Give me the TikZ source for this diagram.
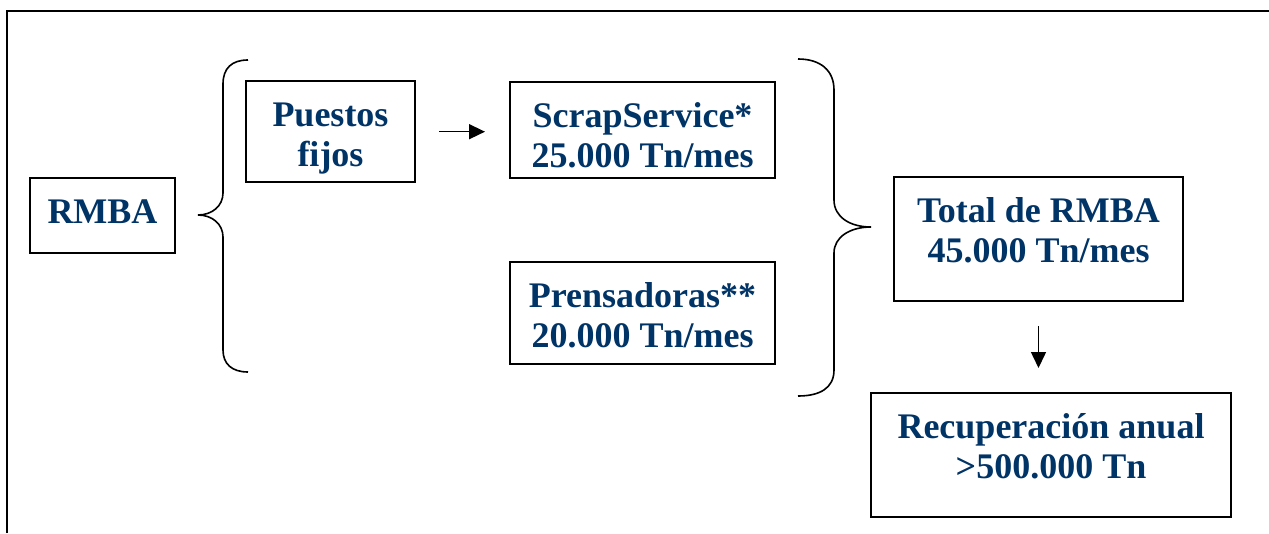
\documentclass[tikz,border=0pt]{standalone}
\usepackage{fontspec}
\setmainfont{Liberation Serif}
\usetikzlibrary{arrows.meta,calc}
\definecolor{txtblue}{RGB}{0,51,102}
\newcommand{\toprule}{\rule{0pt}{45pt}}
\newcommand{\botrule}[1]{\rule[-#1pt]{0pt}{#1pt}}
\tikzset{
  box/.style={draw=black, line width=2pt, inner sep=0pt, align=center,
    text=txtblue, font=\fontsize{36}{40.5}\selectfont\bfseries},
  arr/.style={line width=1.5pt, -{Triangle[length=16pt,width=15pt]}},
  brace/.style={line width=1.6pt},
  frame/.style={line width=2pt}
}
\begin{document}
\begin{tikzpicture}[x=1pt,y=-1pt]
\useasboundingbox (0,0) rectangle (1269,533);
\draw[frame] (7,533) -- (7,11) -- (1269,11);

\node[box, minimum width=145pt, minimum height=73pt] (rmba) at (102.5,215.5)
  {\toprule RMBA\botrule{29.4}};
\node[box, minimum width=169pt, minimum height=97pt] (puestos) at (330.5,131.5)
  {\toprule Puestos\\fijos\botrule{15.5}};
\node[box, minimum width=265pt, minimum height=94pt] (scrap) at (642.5,130)
  {\toprule ScrapService*\\25.000 Tn/mes\botrule{10}};
\node[box, minimum width=265pt, minimum height=97pt] (prens) at (642.5,313.3)
  {\toprule Prensadoras**\\20.000 Tn/mes\botrule{16.5}};
\node[box, minimum width=289pt, minimum height=120pt] (total) at (1038.5,239)
  {\toprule Total de RMBA\\45.000 Tn/mes\botrule{38.5}};
\node[box, minimum width=360pt, minimum height=120pt] (recup) at (1051,455)
  {\toprule Recuperación anual\\>500.000 Tn\botrule{38.5}};

% left brace
\draw[brace] (248,60) .. controls (232,60) and (223,68) .. (223,84)
  -- (223,193) .. controls (223,206) and (212,215) .. (198,215)
  .. controls (212,215) and (223,224) .. (223,237)
  -- (223,350) .. controls (223,364) and (232,372) .. (248,372);
% right brace
\draw[brace] (798,59) .. controls (820,59) and (834,70) .. (834,90)
  -- (834,200) .. controls (834,217) and (850,227) .. (871,227)
  .. controls (850,227) and (834,237) .. (834,253)
  -- (834,370) .. controls (834,388) and (820,396) .. (798,396);

\draw[arr, shorten <=23pt, shorten >=24pt] (puestos.east |- 0,131.7) -- (scrap.west |- 0,131.7);
\draw[arr, shorten <=24pt, shorten >=24pt] (total.south) -- (total.south |- recup.north);
\end{tikzpicture}
\end{document}
